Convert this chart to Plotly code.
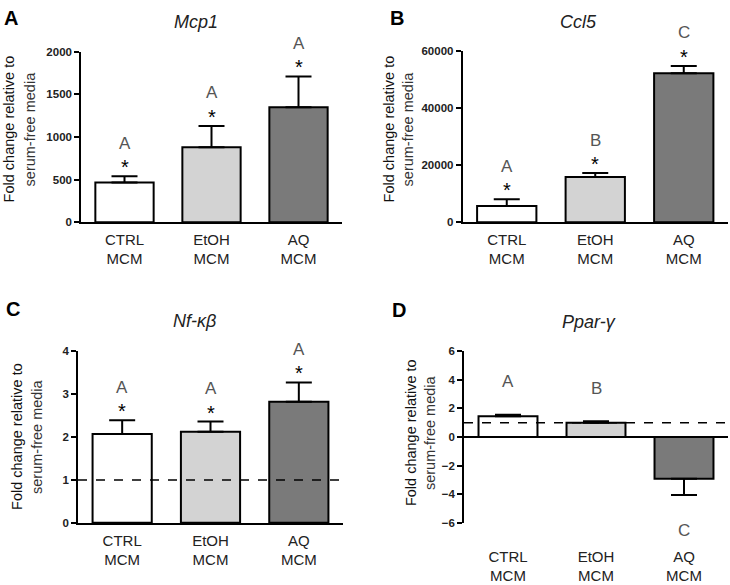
import plotly.graph_objects as go

# ---------------- data ----------------
categories = ["CTRL<br>MCM", "EtOH<br>MCM", "AQ<br>MCM"]
bar_colors = ["#ffffff", "#d3d3d3", "#7a7a7a"]

mcp1_mean = [465, 880, 1350]
mcp1_sem = [75, 250, 360]
mcp1_letters = ["A", "A", "A"]
mcp1_star = [True, True, True]

ccl5_mean = [5700, 15800, 52200]
ccl5_sem = [2300, 1400, 2600]
ccl5_letters = ["A", "B", "C"]
ccl5_star = [True, True, True]

nfkb_mean = [2.07, 2.12, 2.82]
nfkb_sem = [0.32, 0.24, 0.45]
nfkb_letters = ["A", "A", "A"]
nfkb_star = [True, True, True]

ppar_mean = [1.44, 1.0, -2.92]
ppar_sem = [0.12, 0.1, 1.14]
ppar_letters = ["A", "B", "C"]
ppar_star = [False, False, False]

mcp1_ticks = [0, 500, 1000, 1500, 2000]
ccl5_ticks = [0, 20000, 40000, 60000]
nfkb_ticks = [0, 1, 2, 3, 4]
ppar_ticks = [-6, -4, -2, 0, 2, 4, 6]

FONT = "Liberation Sans, Arial, Helvetica, sans-serif"
W, H = 730, 585


def px_x(v):
    return min(1.0, v / W)


def px_y(v):
    return 1 - v / H


panels = [
    dict(key="", letter="A", title="Mcp1", mean=mcp1_mean, sem=mcp1_sem,
         letters=mcp1_letters, star=mcp1_star, ticks=mcp1_ticks,
         yrange=[0, 2000], xdom=[81, 342], ydom=[46.7, 220.7], ref=None,
         zero=False, standoff=3,
         letter_pos=(10.5, 12), title_pos=(196, 16), lab=(9, 30, 126)),
    dict(key="2", letter="B", title="Ccl5", mean=ccl5_mean, sem=ccl5_sem,
         letters=ccl5_letters, star=ccl5_star, ticks=ccl5_ticks,
         yrange=[0, 60000], xdom=[462.5, 728], ydom=[46, 220.7], ref=None,
         zero=False, standoff=3,
         letter_pos=(396.5, 12), title_pos=(578, 16), lab=(389, 408, 126)),
    dict(key="3", letter="C", title="Nf-κβ", mean=nfkb_mean, sem=nfkb_sem,
         letters=nfkb_letters, star=nfkb_star, ticks=nfkb_ticks,
         yrange=[0, 4], xdom=[78, 343], ydom=[352.3, 527.7], ref=1,
         zero=False, standoff=3,
         letter_pos=(13, 309), title_pos=(194, 322), lab=(17, 37, 440)),
    dict(key="4", letter="D", title="Ppar-γ", mean=ppar_mean, sem=ppar_sem,
         letters=ppar_letters, star=ppar_star, ticks=ppar_ticks,
         yrange=[-6, 6], xdom=[464, 728], ydom=[352.3, 527.7], ref=1,
         zero=True, standoff=23,
         letter_pos=(399, 310), title_pos=(589, 323), lab=(411, 430, 436)),
]

fig = go.Figure()
annotations = []
shapes = []

for p in panels:
    k = p["key"]
    xa = "x" + k
    ya = "y" + k
    up = [s if m >= 0 else 0 for m, s in zip(p["mean"], p["sem"])]
    down = [s if m < 0 else 0 for m, s in zip(p["mean"], p["sem"])]
    fig.add_trace(go.Bar(
        x=categories, y=p["mean"], xaxis=xa, yaxis=ya,
        width=0.67,
        marker=dict(color=bar_colors, line=dict(color="black", width=2)),
        error_y=dict(type="data", symmetric=False, array=up, arrayminus=down,
                     color="black", thickness=2, width=13),
        showlegend=False, hoverinfo="skip",
    ))

    xl = "xaxis" + k
    yl = "yaxis" + k
    fig.layout[xl] = dict(
        domain=[px_x(p["xdom"][0]), px_x(p["xdom"][1])],
        anchor=ya, type="category", range=[-0.5, 2.5],
        showline=not p["zero"], linecolor="black", linewidth=1.5,
        ticks="", showgrid=False, zeroline=False,
        tickfont=dict(family=FONT, size=15, color="#222"),
        ticklabelstandoff=p["standoff"],
    )
    fig.layout[yl] = dict(
        domain=[px_y(p["ydom"][1]), px_y(p["ydom"][0])],
        anchor=xa, range=p["yrange"], tickvals=p["ticks"], tickformat="d",
        showline=True, linecolor="black", linewidth=1.5,
        ticks="outside", ticklen=5, tickwidth=1.5, tickcolor="black",
        showgrid=False, zeroline=p["zero"], zerolinecolor="black",
        zerolinewidth=1.5,
        tickfont=dict(family=FONT, size=11.5, color="#222", weight="bold"),
    )

    if p["ref"] is not None:
        shapes.append(dict(type="line", xref=xa + " domain", yref=ya,
                           x0=0, x1=1, y0=p["ref"], y1=p["ref"],
                           line=dict(color="black", width=1.5, dash="dash"),
                           layer="above"))

    # significance letters and asterisks
    for c, m, s, let, st in zip(categories, p["mean"], p["sem"],
                                p["letters"], p["star"]):
        if m >= 0:
            ypos = m + s
            lshift, sshift = 33, 9
        else:
            ypos = m - s
            lshift, sshift = -35, -9
        annotations.append(dict(x=c, y=ypos, xref=xa, yref=ya, text=let,
                                showarrow=False, yanchor="middle",
                                yshift=lshift,
                                font=dict(family=FONT, size=17, color="#555")))
        if st:
            annotations.append(dict(x=c, y=ypos, xref=xa, yref=ya, text="*",
                                    showarrow=False, yanchor="middle",
                                    yshift=sshift,
                                    font=dict(family=FONT, size=20, color="black")))

    # panel letter
    lx, ly = p["letter_pos"]
    annotations.append(dict(x=px_x(lx), y=px_y(ly), xref="paper", yref="paper",
                            text="<b>" + p["letter"] + "</b>", showarrow=False,
                            xanchor="center", yanchor="middle",
                            font=dict(family=FONT, size=20, color="black")))
    # title
    tx, ty = p["title_pos"]
    annotations.append(dict(x=px_x(tx), y=px_y(ty), xref="paper", yref="paper",
                            text="<i>" + p["title"] + "</i>", showarrow=False,
                            xanchor="center", yanchor="middle",
                            font=dict(family=FONT, size=18, color="#222")))
    # y-axis title (two lines)
    l1, l2, yc = p["lab"]
    annotations.append(dict(x=px_x(l1), y=px_y(yc), xref="paper", yref="paper",
                            text="Fold change relative to", showarrow=False,
                            textangle=-90, xanchor="center", yanchor="middle",
                            font=dict(family=FONT, size=14.5, color="#111")))
    annotations.append(dict(x=px_x(l2), y=px_y(yc), xref="paper", yref="paper",
                            text="serum-free media", showarrow=False,
                            textangle=-90, xanchor="center", yanchor="middle",
                            font=dict(family=FONT, size=14.5, color="#333")))

fig.update_layout(
    width=W, height=H,
    margin=dict(l=0, r=0, t=0, b=0),
    paper_bgcolor="white", plot_bgcolor="white",
    font=dict(family=FONT, color="#222"),
    annotations=annotations, shapes=shapes,
)

# remove the default 8px page margin so the figure fills the window exactly
fig.write_html("out.html",
               config={"displayModeBar": False},
               post_script="document.body.style.margin='0px';")
